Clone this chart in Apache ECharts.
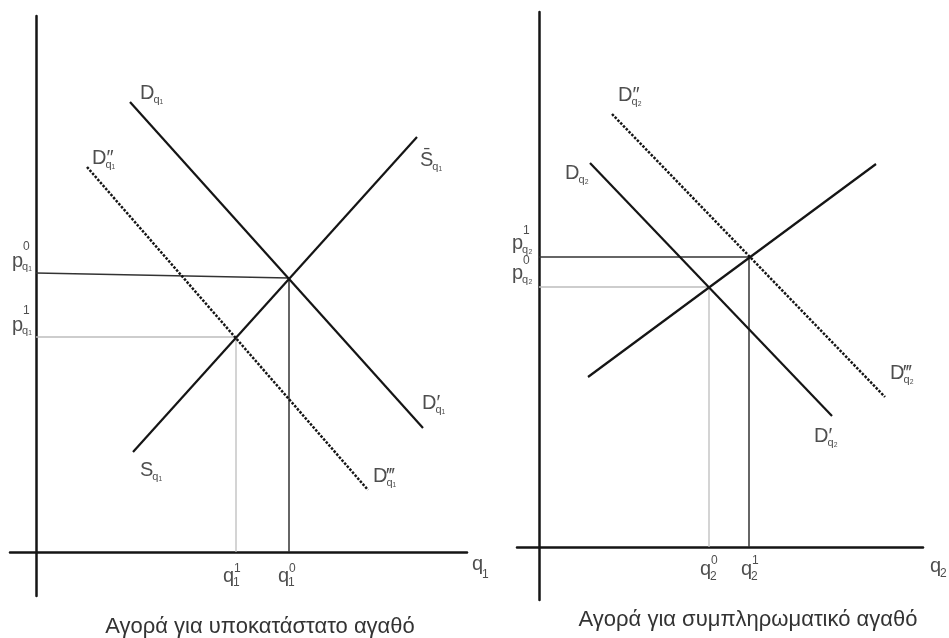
<!DOCTYPE html>
<html>
<head>
<meta charset="utf-8">
<title>Αγορά για υποκατάστατο / συμπληρωματικό αγαθό</title>
<script src="https://cdn.jsdelivr.net/npm/echarts@6/dist/echarts.min.js"></script>
<style>
  html, body { margin: 0; padding: 0; background: #fff; }
  #chart { width: 949px; height: 638px; }
</style>
</head>
<body>
<div id="chart"></div>
<script>
// ---- data (same units on both axes) ----
// left: substitute good q1
const q1Range = [-2.6, 43.1];
const p1Range = [-4.4, 53.6];
const q1Demand = [[9.4, 45.0], [38.7, 12.4]];        // D_q1 -> D'_q1
const q1DemandShift = [[5.1, 38.5], [33.2, 6.2]];    // D''_q1 -> D'''_q1
const q1Supply = [[9.7, 10.0], [38.1, 41.5]];        // S_q1 -> S̄_q1
const q1Eq0 = [25.3, 27.4];
const q1Eq1 = [20.0, 21.5];
const q1P0AtAxis = 27.9;   // the p0 line is drawn a little off level

// right: complementary good q2
const q2Range = [-2.2, 38.4];
const p2Range = [-5.3, 53.5];
const q2Demand = [[5.1, 38.4], [29.3, 13.1]];
const q2DemandShift = [[7.3, 43.3], [34.6, 15.0]];
const q2Supply = [[4.9, 17.0], [33.7, 38.3]];
const q2Eq0 = [17.0, 26.0];
const q2Eq1 = [21.0, 29.0];

const titles = ['Αγορά για υποκατάστατο αγαθό', 'Αγορά για συμπληρωματικό αγαθό'];

// ---- styles ----
const FONT = '"Liberation Sans", Arial, sans-serif';
const INK = '#222';
const LINE = '#151515';
const DARK_GUIDE = '#333';
const LIGHT_GUIDE = '#bdbdbd';

const chart = echarts.init(document.getElementById('chart'));

const ctx = document.createElement('canvas').getContext('2d');
function textW(s, size) {
  ctx.font = size + 'px ' + FONT;
  return ctx.measureText(s).width;
}

// one text piece, x = left edge, base = baseline (pixels from the anchor)
function txt(anchor, text, x, base, size) {
  return {
    value: anchor,
    label: {
      show: true, position: 'inside', formatter: text,
      offset: [x, base - 0.35 * size],
      align: 'left', verticalAlign: 'middle',
      fontSize: size, fontFamily: FONT, color: INK
    }
  };
}

// letter with primes, superscript and subscript
function sym(anchor, base, primes, sup, sub, x, y, o) {
  o = o || {};
  const size = o.size || 20;
  const w = textW(base, size);
  const items = [txt(anchor, base + primes, x, y, size)];
  if (sup) items.push(txt(anchor, sup, x + w + (o.supDx || 0), y - (o.supUp || 11), o.supSize || 12));
  if (sub) items.push(txt(anchor, sub, x + w + (o.subDx || -1), y + (o.subDown || 4), o.subSize || 11));
  return items;
}

function seg(gridIdx, data, color, width, type) {
  return {
    type: 'line', xAxisIndex: gridIdx, yAxisIndex: gridIdx,
    data: data, symbol: 'none', silent: true,
    lineStyle: { color: color, width: width, type: type || 'solid', cap: 'butt' }
  };
}

function guides(gridIdx, eq, pAtAxis, color, width) {
  return [
    seg(gridIdx, [[0, pAtAxis], eq], color, width),
    seg(gridIdx, [eq, [eq[0], 0]], color, width)
  ];
}

function axis(range) {
  return {
    type: 'value', min: range[0], max: range[1],
    axisLine: { show: true, onZero: true, lineStyle: { color: LINE, width: 2.5 } },
    axisTick: { show: false }, axisLabel: { show: false }, splitLine: { show: false }
  };
}

const leftLabels = [].concat(
  sym(q1Demand[0], 'D', '', '', 'q₁', 10, -2),
  sym(q1Demand[1], 'D', '′', '', 'q₁', -1, -18),
  sym(q1DemandShift[0], 'D', '″', '', 'q₁', 5, -2),
  sym(q1DemandShift[1], 'D', '‴', '', 'q₁', 5, -7),
  sym(q1Supply[0], 'S', '', '', 'q₁', 7, 25),
  sym(q1Supply[1], 'S', '\u0304', '', 'q₁', 3, 30),
  sym([0, q1P0AtAxis], 'p', '', '0', 'q₁', -24, -5, { supUp: 17, subDown: 3 }),
  sym([0, q1Eq1[1]], 'p', '', '1', 'q₁', -24, -5, { supUp: 17, subDown: 3 }),
  sym([q1Eq1[0], 0], 'q', '', '1', '1', -13, 31, { supUp: 10, subDown: 4, subSize: 12, subDx: 0 }),
  sym([q1Eq0[0], 0], 'q', '', '0', '1', -11, 31, { supUp: 10, subDown: 4, subSize: 12, subDx: 0 }),
  sym([q1Range[1], 0], 'q', '', '', '1', 5, 19, { subDown: 8, subSize: 12, subDx: 0 })
);

const rightLabels = [].concat(
  sym(q2Demand[0], 'D', '', '', 'q₂', -25, 17),
  sym(q2Demand[1], 'D', '′', '', 'q₂', -18, 27),
  sym(q2DemandShift[0], 'D', '″', '', 'q₂', 6, -12),
  sym(q2DemandShift[1], 'D', '‴', '', 'q₂', 5, -17),
  sym([0, q2Eq1[1]], 'p', '', '1', 'q₂', -27, -7, { supUp: 15, subDown: 4 }),
  sym([0, q2Eq0[1]], 'p', '', '0', 'q₂', -27, -7, { supUp: 15, subDown: 4 }),
  sym([q2Eq0[0], 0], 'q', '', '0', '2', -9, 29, { supUp: 11, subDown: 5, subSize: 12, subDx: 0 }),
  sym([q2Eq1[0], 0], 'q', '', '1', '2', -8, 29, { supUp: 11, subDown: 5, subSize: 12, subDx: 0 }),
  sym([q2Range[1], 0], 'q', '', '', '2', 7, 26, { subDown: 5, subSize: 12, subDx: 0 })
);

function labelSeries(gridIdx, data) {
  return {
    type: 'scatter', xAxisIndex: gridIdx, yAxisIndex: gridIdx,
    symbolSize: 1, itemStyle: { color: 'rgba(0,0,0,0)' }, silent: true, z: 5,
    data: data
  };
}

const option = {
  backgroundColor: '#fff',
  animation: false,
  title: [
    { text: titles[0], left: 255, top: 611, textAlign: 'center',
      textStyle: { fontSize: 22, fontWeight: 'normal', color: '#333', fontFamily: FONT } },
    { text: titles[1], left: 743, top: 604, textAlign: 'center',
      textStyle: { fontSize: 22, fontWeight: 'normal', color: '#333', fontFamily: FONT } }
  ],
  grid: [
    { left: 10, top: 16, width: 457, height: 580, outerBoundsMode: 'none' },
    { left: 517, top: 12, width: 406, height: 588, outerBoundsMode: 'none' }
  ],
  xAxis: [
    Object.assign(axis(q1Range), { gridIndex: 0 }),
    Object.assign(axis(q2Range), { gridIndex: 1 })
  ],
  yAxis: [
    Object.assign(axis(p1Range), { gridIndex: 0 }),
    Object.assign(axis(p2Range), { gridIndex: 1 })
  ],
  series: [].concat(
    guides(0, q1Eq0, q1P0AtAxis, DARK_GUIDE, 1.5),
    guides(0, q1Eq1, q1Eq1[1], LIGHT_GUIDE, 1.3),
    [
      seg(0, q1Demand, LINE, 2.2),
      seg(0, q1Supply, LINE, 2.2),
      seg(0, q1DemandShift, LINE, 2.5, [2.5, 1.5]),
      labelSeries(0, leftLabels)
    ],
    guides(1, q2Eq0, q2Eq0[1], LIGHT_GUIDE, 1.3),
    guides(1, q2Eq1, q2Eq1[1], DARK_GUIDE, 1.5),
    [
      seg(1, q2Demand, LINE, 2.2),
      seg(1, q2Supply, LINE, 2.2),
      seg(1, q2DemandShift, LINE, 2.5, [2.5, 1.5]),
      labelSeries(1, rightLabels)
    ]
  )
};

chart.setOption(option);
</script>
</body>
</html>
